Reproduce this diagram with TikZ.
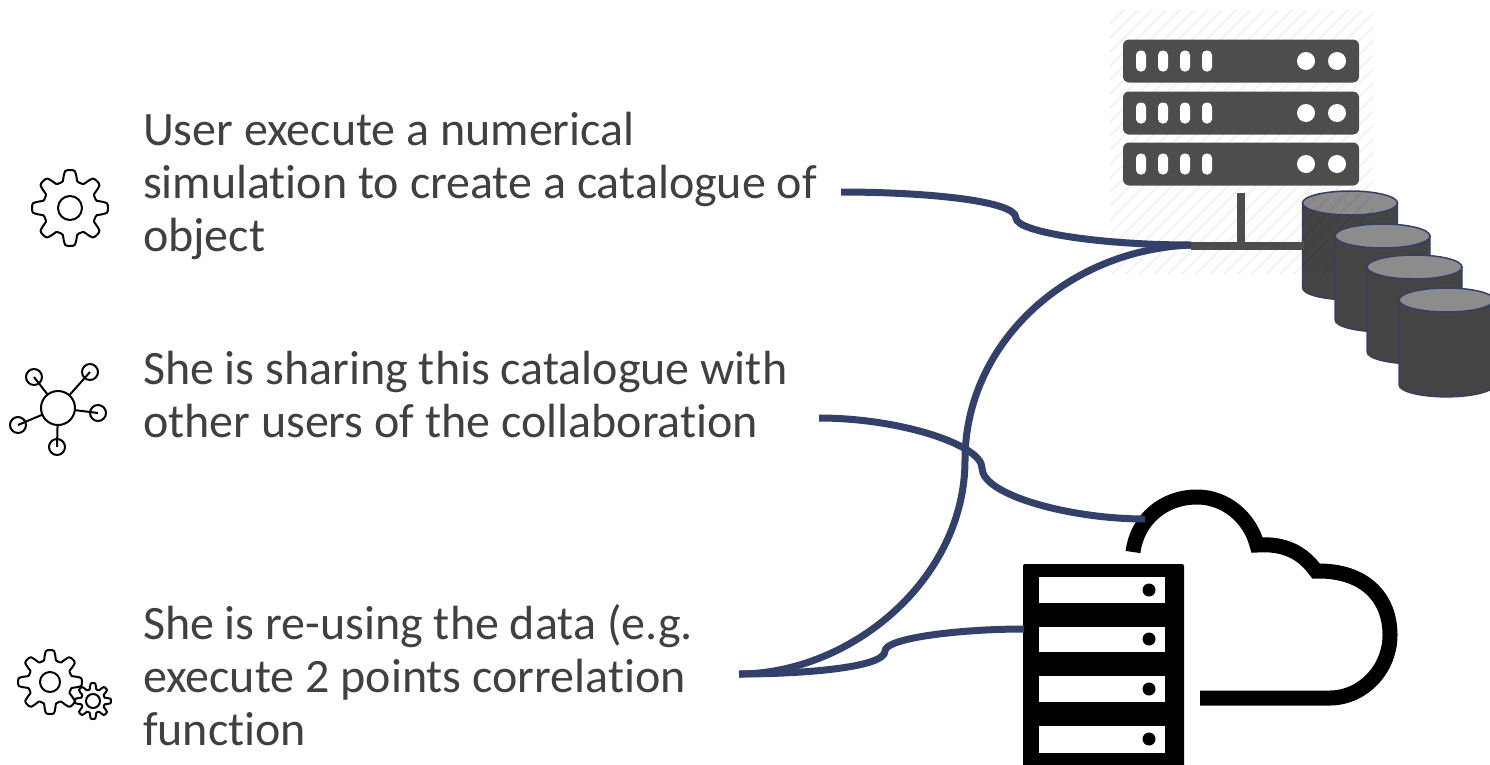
\documentclass[tikz,border=0pt]{standalone}
\usepackage{fontspec}
\setmainfont[Ligatures=NoCommon]{Carlito}
\definecolor{linkblue}{HTML}{334069}
\definecolor{txt}{HTML}{404040}
\definecolor{srv}{HTML}{4D4D4D}
\definecolor{cyl}{HTML}{444444}
\definecolor{cyltop}{HTML}{8C8C8C}
\tikzset{
  label/.style={anchor=west,inner sep=0pt,outer sep=0pt,align=left,text=txt,font=\fontsize{48}{53}\selectfont},
  link/.style={draw=linkblue,line width=7pt},
  icon/.style={draw=black,line width=2pt,line join=round},
  cloudline/.style={draw=black,line width=15pt,line join=miter},
  rack/.style={fill=srv,rounded corners=6pt},
  pill/.style={fill=white,rounded corners=4.5pt},
  cylbody/.style={fill=cyl,draw=linkblue,line width=1.2pt},
  cyllid/.style={fill=cyltop,draw=linkblue,line width=1.5pt}
}
\newcommand{\gearicon}[5]{% cx cy root amplitude hub
  \draw[icon] plot[smooth cycle,samples=96,domain=0:356.25,variable=\t]
    ({#1+(#3+#4*max(-1,min(1,1.7*cos(8*(\t-90)))))*cos(\t)},{#2+(#3+#4*max(-1,min(1,1.7*cos(8*(\t-90)))))*sin(\t)});
  \draw[icon] (#1,#2) circle (#5);
}
\newcommand{\cylinder}[3]{% cx top bottom
  \draw[cylbody] (#1-47.5,#2) -- (#1-47.5,#3) arc[start angle=180,end angle=0,x radius=47.5,y radius=12] -- (#1+47.5,#2) -- cycle;
  \draw[cyllid] (#1,#2) ellipse[x radius=47.5,y radius=12];
}
\newcommand{\rackrow}[1]{% centre y
  \fill[rack] (1123,#1-21.5) rectangle (1359,#1+21.5);
  \foreach \px in {1141,1163,1185,1207}
    \fill[pill] (\px-5,#1-10.5) rectangle (\px+5,#1+10.5);
  \fill[white] (1306,#1) circle (9) (1337,#1) circle (9);
}
\newcommand{\slot}[3]{% top bottom dot
  \fill[white] (1039,#1) rectangle (1165,#2);
  \fill[black] (1149,#3) circle (6.5);
}
\begin{document}
\begin{tikzpicture}[x=1pt,y=-1pt]
\useasboundingbox (0,0) rectangle (1490,764);
\fill[white] (0,0) rectangle (1490,764);
\cylinder{1350}{203}{288}
% hatched backdrop
\begin{scope}
  \clip (1110,10) rectangle (1373,273);
  \foreach \k in {1120,1134,...,1660}
    \draw[black,opacity=.05,line width=1.8pt] (\k,0) -- (\k-300,300);
\end{scope}
% top server
\rackrow{61}
\rackrow{113}
\rackrow{164}
\fill[srv] (1237,193) rectangle (1245,246);
\fill[srv] (1191,242) rectangle (1304,250);
\begin{scope}
\clip (0,0) rectangle (1490,764);
\cylinder{1382.5}{236}{320}
\cylinder{1414.5}{267}{352}
\cylinder{1446.5}{300}{385}
\end{scope}
% cloud
\draw[cloudline] (1133,552) .. controls (1137,520) and (1163,497) .. (1197,497)
  .. controls (1226,497) and (1250,518) .. (1257,545)
  .. controls (1285,543) and (1303,553) .. (1316,571)
  .. controls (1365,570) and (1390,598) .. (1390,635)
  .. controls (1390,670) and (1362,698) .. (1330,698) -- (1200,698);
% black rack
\fill[black,rounded corners=2pt] (1023,564) rectangle (1184,780);
\slot{577}{603}{590}
\slot{627}{652}{639}
\slot{676}{702}{689}
\slot{726}{753}{739}
% texts
\node[label] (t1) at (143,186) {User execute a numerical\\simulation to create a catalogue of\\object};
\node[label] (t2) at (143,395) {She is sharing this catalogue with\\other users of the collaboration};
\node[label] (t3) at (143,675) {She is re-using the data (e.g.\\execute 2 points correlation\\function};
% connector ends
\coordinate (a1) at (841,192);
\coordinate (b1) at (1191,245);
\coordinate (m1) at (1016,218);
\coordinate (a2) at (819,418);
\coordinate (b2) at (1145,519);
\coordinate (m2) at (982,468);
\coordinate (a3) at (739,674);
\coordinate (b3) at (1024,629);
\coordinate (m3) at (885,651);
\coordinate (m4) at (965,460);
% connectors
\draw[link] (a1) .. controls (920,192) and (1016,200) .. (m1) .. controls (1016,232) and (1100,245) .. (b1);
\draw[link] (a2) .. controls (900,418) and (982,445) .. (m2) .. controls (982,495) and (1070,519) .. (b2);
\draw[link] (a3) .. controls (800,674) and (885,668) .. (m3) .. controls (885,638) and (960,629) .. (b3);
\draw[link] (a3) .. controls (850,674) and (965,580) .. (m4) .. controls (965,345) and (1065,250) .. (b1);
% icons
\gearicon{70}{208}{32.5}{5.5}{12}
\gearicon{50}{682}{27}{5}{10}
\gearicon{93}{701}{15}{3}{7}
\coordinate (hub) at (58,408);
\draw[icon] (hub) circle (17);
\foreach \sx/\sy/\sn in {34/377/s1,90/372/s2,98/413/s3,57/447/s4,18/425/s5}{
  \coordinate (\sn) at (\sx,\sy);
  \draw[icon] (\sn) circle (8);
  \draw[icon] (hub) ++({atan2(\sy-408,\sx-58)}:17) -- (\sn);
}
\end{tikzpicture}
\end{document}
